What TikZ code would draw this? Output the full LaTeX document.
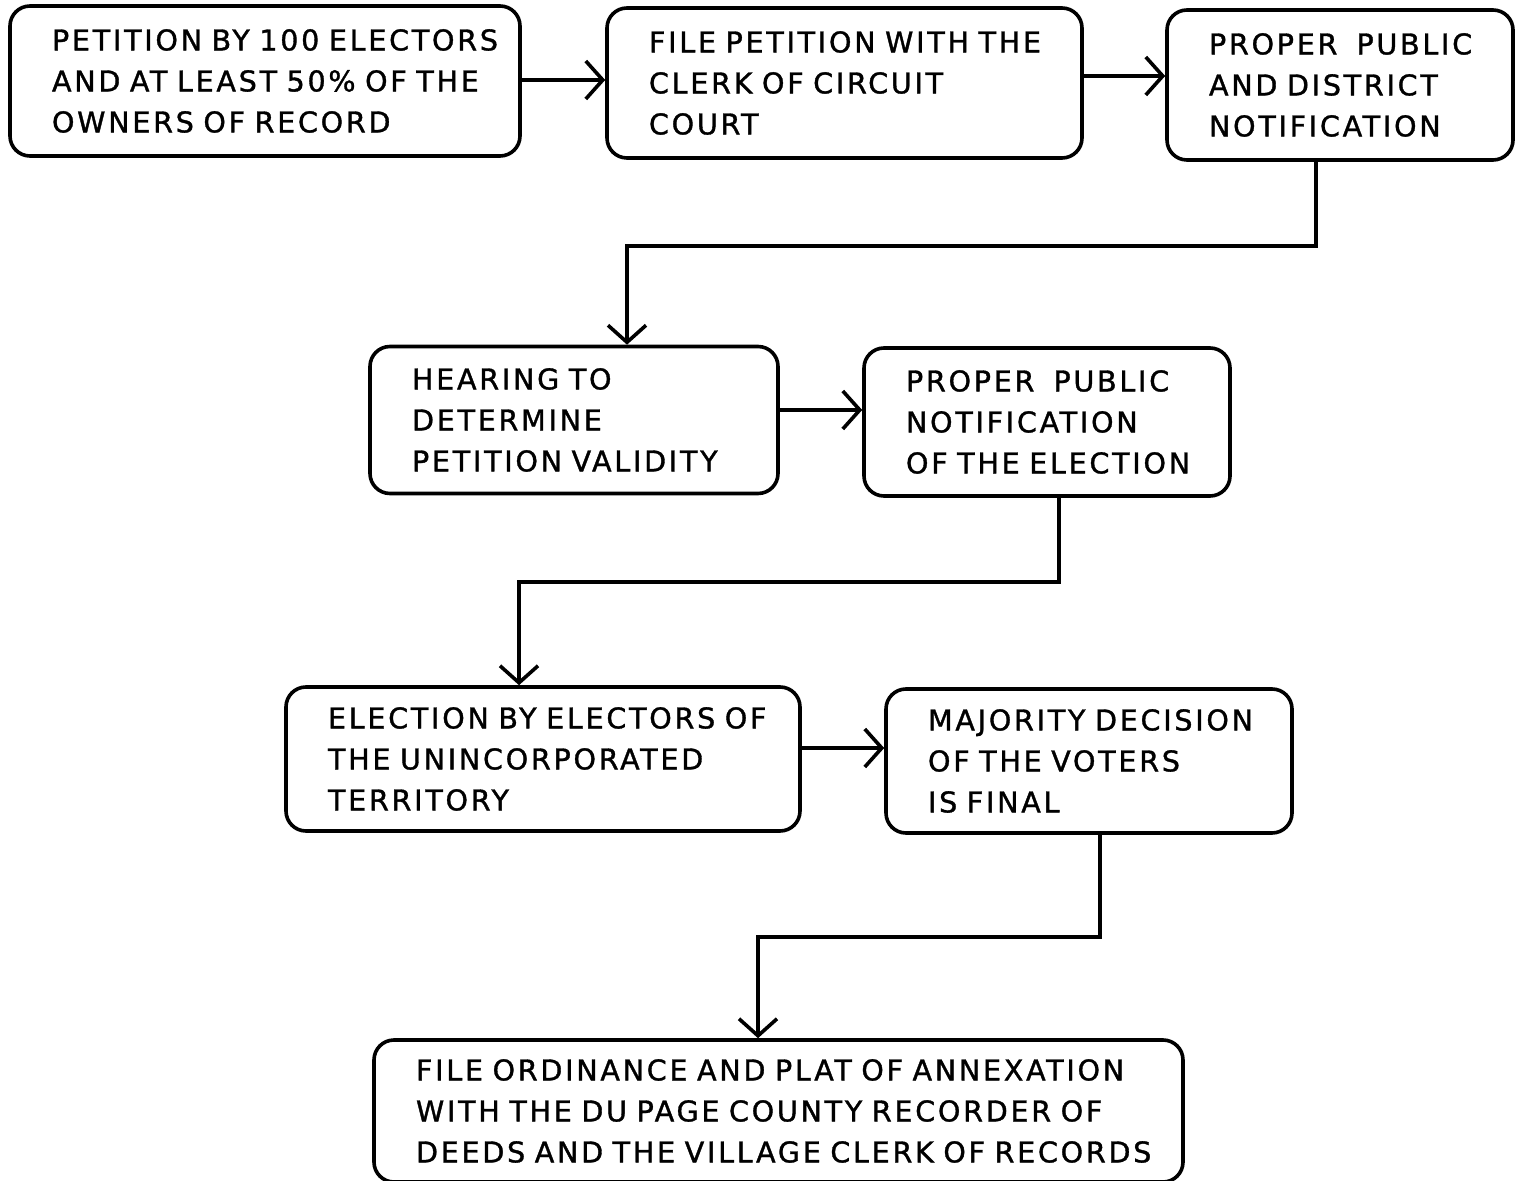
\documentclass[tikz,border=0pt]{standalone}
\usepackage{fontspec}
\setmainfont{DejaVu Sans}[LetterSpace=9.5, FakeBold=1.2]
\usetikzlibrary{arrows.meta}
\hyphenpenalty=10000
\exhyphenpenalty=10000
\begin{document}
\begin{tikzpicture}[x=0.5pt, y=-0.5pt,
  stage/.style={draw, line width=1.8pt, rounded corners=10pt, align=left,
    inner xsep=21pt, inner ysep=0pt, font=\fontsize{14.3}{20.5}\selectfont},
  flow/.style={line width=1.8pt, -{Straight Barb[length=8.5pt, width=19pt]}}]

\useasboundingbox[fill=white] (0,0) rectangle (1520,1181);

\node[stage, text width=213pt, minimum height=75pt] (petition) at (265,81)
  {PETITION~BY~100~ELECTORS\\AND~AT~LEAST~50\%~OF~THE\\OWNERS~OF~RECORD};
\node[stage, text width=195.5pt, minimum height=75pt] (filing) at (844.5,83)
  {FILE~PETITION~WITH~THE\\CLERK~OF~CIRCUIT\\COURT};
\node[stage, text width=131pt, minimum height=75pt] (notice) at (1340,85)
  {PROPER~~PUBLIC\\AND~DISTRICT\\NOTIFICATION};
\node[stage, text width=162pt, minimum height=73.5pt] (hearing) at (574,420)
  {HEARING~TO\\DETERMINE\\PETITION~VALIDITY};
\node[stage, text width=141pt, minimum height=74pt] (announce) at (1047,422)
  {PROPER~~PUBLIC\\NOTIFICATION\\OF~THE~ELECTION};
\node[stage, text width=215pt, minimum height=72pt] (vote) at (543,759)
  {ELECTION~BY~ELECTORS~OF\\THE~UNINCORPORATED\\TERRITORY};
\node[stage, text width=161pt, minimum height=72pt] (decision) at (1089,761)
  {MAJORITY~DECISION\\OF~THE~VOTERS\\IS~FINAL};
\node[stage, text width=362.5pt, minimum height=71pt] (record) at (778.5,1111)
  {FILE~ORDINANCE~AND~PLAT~OF~ANNEXATION\\WITH~THE~DU~PAGE~COUNTY~RECORDER~OF\\DEEDS~AND~THE~VILLAGE~CLERK~OF~RECORDS};

\coordinate (bend1) at (1316,246);
\coordinate (bend2) at (627,246);
\coordinate (bend3) at (1059,582);
\coordinate (bend4) at (519,582);
\coordinate (bend5) at (1100,937);
\coordinate (bend6) at (758,937);

\draw[flow] (petition.east |- 0,80) -- (filing.west |- 0,80);
\draw[flow] (filing.east |- 0,76) -- (notice.west |- 0,76);
\draw[flow] (notice.south -| bend1) |- (bend2) -- (bend2 |- hearing.north);
\draw[flow] (hearing.east |- 0,410) -- (announce.west |- 0,410);
\draw[flow] (announce.south -| bend3) |- (bend4) -- (bend4 |- vote.north);
\draw[flow] (vote.east |- 0,748) -- (decision.west |- 0,748);
\draw[flow] (decision.south -| bend5) |- (bend6) -- (bend6 |- record.north);
\end{tikzpicture}
\end{document}
